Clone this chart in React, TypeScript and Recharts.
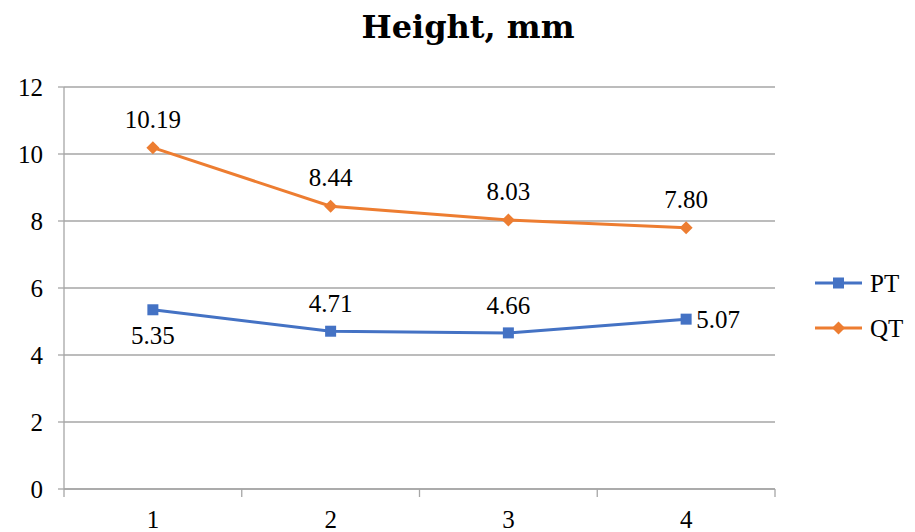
import React from 'react';
import { LineChart, Line, XAxis, YAxis, CartesianGrid, Legend, LabelList } from 'recharts';

const categories = ['1', '2', '3', '4'];
const ptValues = [5.35, 4.71, 4.66, 5.07];
const qtValues = [10.19, 8.44, 8.03, 7.8];
const yTicks = [0, 2, 4, 6, 8, 10, 12];
const ptLabelSide = ['bottom', 'top', 'top', 'right'];

const BLUE = '#4472C4';
const ORANGE = '#ED7D31';
const GRID = '#a6a6a6';
const FONT = '"Liberation Serif", "Times New Roman", serif';

const data = categories.map((c, i) => ({ x: i + 1, cat: c, PT: ptValues[i], QT: qtValues[i] }));
// tick lines sit on the category boundaries, labels on the centres
const xTicks = [0.5, ...categories.map((_, i) => i + 1), ...categories.map((_, i) => i + 1.5)].sort((a, b) => a - b);

const XTick = (props: any) => {
  const { x, y, payload } = props;
  const v = payload.value;
  if (Number.isInteger(v)) {
    return (
      <text x={x} y={y + 39} textAnchor="middle" fontFamily={FONT} fontSize={25} fill="#000">
        {categories[v - 1]}
      </text>
    );
  }
  return <line x1={x} y1={y} x2={x} y2={y + 8} stroke={GRID} strokeWidth={1.3} />;
};

const SquareDot = (p: any) => (
  <rect key={`pt-${p.index}`} x={p.cx - 5.5} y={p.cy - 5.5} width={11} height={11} fill={BLUE} />
);

const DiamondDot = (p: any) => (
  <polygon
    key={`qt-${p.index}`}
    points={`${p.cx},${p.cy - 6.5} ${p.cx + 6.5},${p.cy} ${p.cx},${p.cy + 6.5} ${p.cx - 6.5},${p.cy}`}
    fill={ORANGE}
  />
);

const ptLabel = (p: any) => {
  const side = ptLabelSide[p.index];
  const txt = Number(p.value).toFixed(2);
  if (side === 'right') {
    return <text x={p.x + 10} y={p.y + 9} fontFamily={FONT} fontSize={25} fill="#000">{txt}</text>;
  }
  const dy = side === 'bottom' ? 34 : -19;
  return <text x={p.x} y={p.y + dy} textAnchor="middle" fontFamily={FONT} fontSize={25} fill="#000">{txt}</text>;
};

const qtLabel = (p: any) => (
  <text x={p.x} y={p.y - 20} textAnchor="middle" fontFamily={FONT} fontSize={25} fill="#000">
    {Number(p.value).toFixed(2)}
  </text>
);

const LegendContent = (props: any) => {
  const { payload } = props;
  return (
    <svg width={100} height={90}>
      {(payload || []).map((item: any, i: number) => {
        const cy = 15 + i * 45;
        const color = item.color;
        return (
          <g key={item.value}>
            <line x1={3} y1={cy} x2={50} y2={cy} stroke={color} strokeWidth={3} />
            {item.value === 'PT' ? (
              <rect x={21} y={cy - 5.5} width={11} height={11} fill={color} />
            ) : (
              <polygon points={`26.5,${cy - 6.5} 33,${cy} 26.5,${cy + 6.5} 20,${cy}`} fill={color} />
            )}
            <text x={58} y={cy + 9} fontFamily={FONT} fontSize={25} fill="#000">{item.value}</text>
          </g>
        );
      })}
    </svg>
  );
};

export default function App() {
  return (
    <div style={{ position: 'fixed', left: 0, top: 0, width: 915, height: 532, background: '#fff' }}>
      <div
        style={{
          position: 'absolute',
          left: 0,
          width: 936,
          top: 11,
          textAlign: 'center',
          fontFamily: '"DejaVu Serif", serif',
          fontWeight: 'bold',
          fontSize: 32,
          lineHeight: 1,
          color: '#000',
        }}
      >
        Height, mm
      </div>
      <LineChart width={915} height={532} data={data} margin={{ top: 87, right: 140, bottom: 0, left: 0 }}>
        <CartesianGrid vertical={false} stroke={GRID} strokeWidth={1.3} />
        <XAxis
          dataKey="x"
          type="number"
          domain={[0.5, 4.5]}
          ticks={xTicks}
          interval={0}
          height={43}
          tickLine={false}
          tickSize={0}
          tickMargin={0}
          axisLine={{ stroke: GRID, strokeWidth: 1.3 }}
          tick={XTick}
        />
        <YAxis
          domain={[0, 12]}
          ticks={yTicks}
          width={64}
          tickSize={6}
          tickMargin={15}
          axisLine={{ stroke: GRID, strokeWidth: 1.3 }}
          tickLine={{ stroke: GRID, strokeWidth: 1.3 }}
          tick={{ fontFamily: FONT, fontSize: 25, fill: '#000' }}
        />
        <Legend
          layout="horizontal"
          verticalAlign="middle"
          align="center"
          content={<LegendContent />}
          wrapperStyle={{ position: 'absolute', left: 812, top: 268, width: 100, height: 90 }}
        />
        <Line
          dataKey="PT"
          name="PT"
          stroke={BLUE}
          strokeWidth={3}
          dot={SquareDot}
          activeDot={false}
          isAnimationActive={false}
        >
          <LabelList dataKey="PT" content={ptLabel} />
        </Line>
        <Line
          dataKey="QT"
          name="QT"
          stroke={ORANGE}
          strokeWidth={3}
          dot={DiamondDot}
          activeDot={false}
          isAnimationActive={false}
        >
          <LabelList dataKey="QT" content={qtLabel} />
        </Line>
      </LineChart>
    </div>
  );
}
